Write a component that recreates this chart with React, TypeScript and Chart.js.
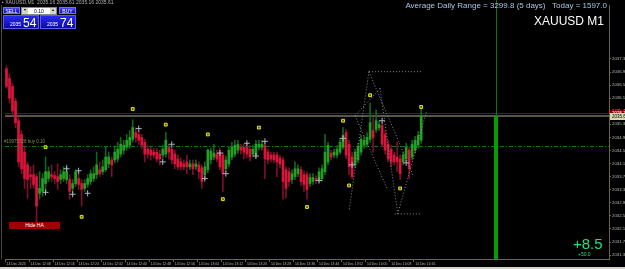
import React, { useEffect, useRef } from 'react';
import { Chart, registerables } from 'chart.js';

Chart.register(...registerables);

// ---- candle data (Heikin-Ashi, 1 minute) ----
const opens = [
  2037.05, 2036.75, 2036.51, 2036.06, 2035.46, 2035.04, 2034.50, 2034.11, 2033.81, 2033.81,
  2033.75, 2033.24, 2033.30, 2033.54, 2033.69, 2033.81, 2033.78, 2033.75, 2033.66, 2033.69,
  2033.66, 2033.66, 2033.39, 2033.54, 2033.69, 2033.54, 2033.39, 2033.51, 2033.60, 2033.69,
  2033.81, 2033.96, 2033.90, 2033.96, 2034.14, 2034.26, 2034.26, 2034.29, 2034.44, 2034.56,
  2034.65, 2034.71, 2034.89, 2035.10, 2035.04, 2034.95, 2034.80, 2034.59, 2034.56, 2034.50,
  2034.50, 2034.44, 2034.41, 2034.44, 2034.65, 2034.59, 2034.44, 2034.29, 2034.20, 2034.14,
  2034.20, 2034.05, 2034.14, 2034.05, 2034.11, 2034.02, 2033.81, 2033.96, 2034.26, 2034.35,
  2034.44, 2034.50, 2034.41, 2033.99, 2034.14, 2034.35, 2034.44, 2034.56, 2034.65, 2034.65,
  2034.65, 2034.59, 2034.44, 2034.41, 2034.65, 2034.65, 2034.71, 2034.50, 2034.41, 2034.41,
  2034.41, 2034.32, 2034.26, 2033.96, 2033.90, 2033.66, 2033.75, 2033.84, 2033.96, 2033.81,
  2033.81, 2033.54, 2033.60, 2033.69, 2033.66, 2033.69, 2033.90, 2034.20, 2034.47, 2034.41,
  2034.41, 2034.50, 2034.65, 2035.10, 2034.74, 2034.35, 2034.11, 2034.26, 2034.50, 2034.71,
  2034.74, 2034.89, 2035.16, 2035.19, 2035.25, 2035.31, 2035.04, 2034.74, 2034.59, 2034.41,
  2034.35, 2034.29, 2034.20, 2034.29, 2034.56, 2034.35, 2034.56, 2034.71, 2034.86,
];
const highs = [
  2037.14, 2036.90, 2036.60, 2036.15, 2035.55, 2035.16, 2034.65, 2034.20, 2034.05, 2034.11,
  2033.84, 2033.90, 2033.84, 2034.35, 2034.05, 2034.11, 2033.90, 2034.14, 2033.96, 2034.05,
  2034.11, 2033.81, 2033.66, 2033.96, 2033.90, 2033.66, 2033.66, 2033.81, 2033.96, 2034.05,
  2034.50, 2034.20, 2034.26, 2034.65, 2034.50, 2034.35, 2034.65, 2034.80, 2034.95, 2034.86,
  2035.04, 2035.16, 2035.49, 2035.25, 2035.16, 2035.04, 2034.89, 2034.71, 2034.65, 2034.62,
  2034.62, 2034.56, 2034.71, 2035.10, 2034.74, 2034.68, 2034.56, 2034.41, 2034.32, 2034.26,
  2034.41, 2034.26, 2034.26, 2034.26, 2034.20, 2034.11, 2034.20, 2034.59, 2034.62, 2034.74,
  2034.56, 2034.62, 2034.50, 2034.38, 2034.68, 2034.80, 2034.86, 2034.86, 2034.74, 2034.74,
  2034.77, 2034.71, 2034.71, 2034.86, 2034.86, 2034.86, 2034.80, 2034.59, 2034.50, 2034.50,
  2034.50, 2034.41, 2034.35, 2034.05, 2034.02, 2033.96, 2034.20, 2034.11, 2034.05, 2033.93,
  2033.90, 2033.84, 2033.84, 2033.78, 2034.02, 2034.11, 2035.04, 2034.80, 2034.56, 2034.59,
  2034.71, 2034.92, 2035.25, 2035.19, 2034.86, 2034.50, 2034.59, 2034.77, 2035.01, 2034.98,
  2035.10, 2036.00, 2035.55, 2035.79, 2035.46, 2035.40, 2035.16, 2034.86, 2034.71, 2034.50,
  2034.80, 2034.41, 2034.50, 2034.77, 2034.65, 2034.86, 2034.98, 2035.13, 2035.85,
];
const lows = [
  2036.45, 2036.00, 2035.64, 2035.25, 2034.05, 2033.84, 2033.39, 2033.09, 2033.39, 2033.39,
  2032.34, 2033.06, 2033.15, 2033.30, 2033.60, 2033.60, 2033.54, 2033.36, 2033.54, 2033.60,
  2033.54, 2033.06, 2033.24, 2033.45, 2033.36, 2032.85, 2033.30, 2033.42, 2033.51, 2033.60,
  2033.69, 2033.75, 2033.81, 2033.90, 2034.02, 2033.75, 2034.17, 2034.20, 2034.35, 2034.44,
  2034.56, 2034.62, 2034.80, 2034.80, 2034.74, 2034.59, 2034.20, 2034.32, 2034.26, 2034.32,
  2034.20, 2034.11, 2034.32, 2034.35, 2034.29, 2034.14, 2033.99, 2033.96, 2033.96, 2033.96,
  2033.84, 2033.96, 2033.81, 2033.96, 2033.69, 2033.39, 2033.66, 2033.87, 2034.14, 2034.26,
  2034.20, 2033.96, 2033.30, 2033.90, 2034.05, 2034.26, 2034.35, 2034.47, 2034.44, 2034.29,
  2034.32, 2034.23, 2034.35, 2034.32, 2034.56, 2034.56, 2033.69, 2034.14, 2034.20, 2034.17,
  2033.75, 2034.02, 2033.06, 2033.09, 2033.45, 2033.54, 2033.66, 2033.75, 2033.48, 2033.30,
  2033.06, 2033.45, 2033.51, 2033.54, 2033.57, 2033.60, 2033.81, 2034.11, 2034.26, 2034.32,
  2034.32, 2034.44, 2034.59, 2034.29, 2033.81, 2033.69, 2034.02, 2034.17, 2034.41, 2034.62,
  2034.65, 2034.80, 2034.50, 2035.10, 2035.16, 2034.65, 2034.44, 2034.20, 2034.05, 2034.11,
  2033.90, 2033.66, 2034.11, 2034.20, 2033.69, 2034.26, 2034.47, 2034.62, 2034.77,
];
const closes = [
  2036.51, 2036.15, 2035.76, 2035.40, 2034.20, 2033.99, 2033.69, 2033.66, 2033.75, 2033.51,
  2032.85, 2033.39, 2033.69, 2033.90, 2033.90, 2033.75, 2033.69, 2033.60, 2033.81, 2033.90,
  2033.90, 2033.30, 2033.54, 2033.90, 2033.51, 2033.36, 2033.54, 2033.69, 2033.84, 2033.84,
  2034.11, 2033.84, 2034.05, 2034.35, 2034.35, 2034.11, 2034.50, 2034.59, 2034.74, 2034.71,
  2034.86, 2034.95, 2035.25, 2034.95, 2034.86, 2034.71, 2034.44, 2034.44, 2034.41, 2034.41,
  2034.29, 2034.29, 2034.59, 2034.86, 2034.50, 2034.26, 2034.14, 2034.05, 2034.05, 2034.05,
  2034.05, 2034.14, 2033.99, 2034.14, 2033.90, 2033.60, 2034.05, 2034.56, 2034.53, 2034.47,
  2034.29, 2034.05, 2033.84, 2034.26, 2034.56, 2034.65, 2034.71, 2034.74, 2034.56, 2034.50,
  2034.44, 2034.35, 2034.59, 2034.74, 2034.74, 2034.74, 2034.29, 2034.26, 2034.29, 2034.26,
  2034.20, 2034.14, 2033.60, 2033.39, 2033.60, 2033.84, 2033.99, 2033.99, 2033.60, 2033.51,
  2033.36, 2033.72, 2033.72, 2033.63, 2033.90, 2033.99, 2034.50, 2034.71, 2034.35, 2034.50,
  2034.59, 2034.80, 2035.01, 2034.41, 2034.05, 2033.75, 2034.50, 2034.65, 2034.89, 2034.86,
  2034.95, 2035.40, 2034.95, 2035.46, 2035.34, 2034.74, 2034.56, 2034.29, 2034.20, 2034.20,
  2034.20, 2033.84, 2034.41, 2034.65, 2033.99, 2034.74, 2034.86, 2035.01, 2035.61,
];

// ---- axis ----
const SLOT_COUNT = 201; // visible minute slots (incl. empty future space)
const xTickLabels = [
  '14 Dec 2023', '14 Dec 12:08', '14 Dec 12:16', '14 Dec 12:24', '14 Dec 12:32', '14 Dec 12:40',
  '14 Dec 12:48', '14 Dec 12:56', '14 Dec 13:04', '14 Dec 13:12', '14 Dec 13:20', '14 Dec 13:28',
  '14 Dec 13:36', '14 Dec 13:44', '14 Dec 13:52', '14 Dec 14:00', '14 Dec 14:08', '14 Dec 14:16',
];
const yTickValues = [
  2031.35, 2031.75, 2032.15, 2032.55, 2032.95, 2033.35, 2033.75, 2034.15,
  2034.55, 2034.95, 2035.35, 2035.75, 2036.15, 2036.55, 2036.95, 2037.35,
];
const yMin = 2031.23;
const yMax = 2039.0;

// ---- markers ----
const fractalIdx = [13, 25, 42, 53, 67, 72, 84, 100, 112, 114, 121, 131, 138];
const fractalPrice = [2034.65, 2032.52, 2035.82, 2035.34, 2035.04, 2033.06, 2035.25, 2032.82, 2035.46, 2033.48, 2036.24, 2033.39, 2035.88];
const crossIdx = [13, 20, 22, 24, 27, 44, 52, 55, 66, 71, 73, 80, 83, 86, 104, 112, 115, 125, 133];
const crossPrice = [2033.27, 2033.99, 2033.21, 2033.93, 2033.24, 2035.22, 2034.20, 2034.74, 2033.69, 2034.47, 2033.84, 2034.77, 2034.38, 2034.83, 2033.63, 2034.92, 2034.11, 2035.46, 2034.17];

// ---- levels ----
const askLevel = 2035.70;
const bidLevel = 2035.61;
const orderLevel = 2034.68;
const rangeBarSlot = 163;

// pattern (dotted) segments: [slotA, priceA, slotB, priceB]
const patternSegments = [
  [120.6, 2036.96, 138.1, 2036.96],
  [129.2, 2032.61, 138.1, 2032.61],
  [120.6, 2036.96, 114.0, 2032.70],
  [120.6, 2036.96, 135.5, 2033.75],
  [124.3, 2036.45, 116.0, 2035.61],
  [124.3, 2036.45, 130.2, 2032.61],
  [116.0, 2035.61, 126.6, 2033.39],
  [130.2, 2032.61, 139.8, 2035.76],
];

const BODY_UP = '#23a023';
const BODY_DN = '#dc143c';
const WICK_UP = '#14641a';
const WICK_DN = '#7d0f2c';
const AXIS = '#6e6448';
const TICK_TXT = '#b8b8b0';

const overlay = {
  id: 'overlay',
  beforeDatasetsDraw(chart: any) {
    const { ctx, chartArea: a, scales } = chart;
    const x = scales.x, y = scales.y;
    ctx.save();
    ctx.strokeStyle = '#4a4a4a';
    ctx.lineWidth = 1;
    ctx.beginPath(); ctx.moveTo(1.5, a.top); ctx.lineTo(1.5, a.bottom); ctx.stroke();
    const yo = Math.round(y.getPixelForValue(orderLevel)) + 0.5;
    ctx.strokeStyle = '#0a7a0a';
    ctx.setLineDash([4, 2, 1, 2]);
    ctx.beginPath(); ctx.moveTo(a.left, yo); ctx.lineTo(a.right, yo); ctx.stroke();
    ctx.setLineDash([]);
    const yb = Math.round(y.getPixelForValue(bidLevel));
    ctx.strokeStyle = '#555555';
    ctx.lineWidth = 2;
    ctx.beginPath(); ctx.moveTo(a.left, yb); ctx.lineTo(a.right, yb); ctx.stroke();
    const ya = Math.round(y.getPixelForValue(askLevel)) + 0.5;
    ctx.strokeStyle = '#8b0000';
    ctx.lineWidth = 1;
    ctx.beginPath(); ctx.moveTo(a.left, ya); ctx.lineTo(a.right, ya); ctx.stroke();
    const xv = Math.round(x.getPixelForValue(rangeBarSlot)) + 0.5;
    ctx.strokeStyle = '#1c6e1c';
    ctx.lineWidth = 1;
    ctx.beginPath(); ctx.moveTo(xv, 0); ctx.lineTo(xv, a.bottom); ctx.stroke();
    ctx.fillStyle = '#00a000';
    ctx.fillRect(xv - 2.5, yb, 4, a.bottom - yb);
    ctx.restore();
  },
  afterDatasetsDraw(chart: any) {
    const { ctx, scales } = chart;
    const x = scales.x, y = scales.y;
    ctx.save();
    ctx.strokeStyle = '#8a8a8a';
    ctx.lineWidth = 1;
    ctx.setLineDash([1, 2]);
    for (const s of patternSegments) {
      ctx.beginPath();
      ctx.moveTo(x.getPixelForValue(s[0]), y.getPixelForValue(s[1]));
      ctx.lineTo(x.getPixelForValue(s[2]), y.getPixelForValue(s[3]));
      ctx.stroke();
    }
    ctx.restore();
  },
  afterDraw(chart: any) {
    const { ctx, chartArea: a, scales } = chart;
    const y = scales.y;
    ctx.save();
    const tag = (price: number, bg: string, fg: string) => {
      const py = y.getPixelForValue(price);
      ctx.fillStyle = bg;
      ctx.fillRect(a.right + 1, Math.round(py) - 3, 20, 7);
      ctx.fillStyle = fg;
      ctx.font = '4.5px "Liberation Sans", Arial, sans-serif';
      ctx.textBaseline = 'middle';
      ctx.fillText(price.toFixed(2), a.right + 3, Math.round(py) + 0.5);
    };
    tag(askLevel, '#8b0000', '#ffffff');
    tag(bidLevel, '#d8d8b0', '#000000');
    ctx.restore();
  },
};

export default function App() {
  const ref = useRef<HTMLCanvasElement>(null);
  useEffect(() => {
    document.body.style.margin = '0';
    document.body.style.background = '#000';
    const canvas = ref.current!;
    const labels = Array.from({ length: SLOT_COUNT }, (_, i) => String(i));
    const isUp = (i: number) => closes[i] >= opens[i];
    const wickData = highs.map((h, i) => [lows[i], h]);
    const bodyData = opens.map((o, i) => [o, closes[i]]);
    const fractalData: (number | null)[] = new Array(SLOT_COUNT).fill(null);
    fractalIdx.forEach((ix, k) => { fractalData[ix] = fractalPrice[k]; });
    const crossData: (number | null)[] = new Array(SLOT_COUNT).fill(null);
    crossIdx.forEach((ix, k) => { crossData[ix] = crossPrice[k]; });
    const lastTickSlot = (xTickLabels.length - 1) * 8;

    const chart = new Chart(canvas, {
      type: 'bar',
      data: {
        labels,
        datasets: [
          {
            type: 'bar',
            data: wickData as any,
            backgroundColor: highs.map((_, i) => (isUp(i) ? WICK_UP : WICK_DN)),
            barThickness: 1,
            grouped: false,
            order: 3,
          } as any,
          {
            type: 'bar',
            data: bodyData as any,
            backgroundColor: opens.map((_, i) => (isUp(i) ? BODY_UP : BODY_DN)),
            barThickness: 2,
            grouped: false,
            order: 2,
          } as any,
          {
            type: 'line',
            data: fractalData,
            showLine: false,
            pointStyle: 'rect',
            pointRadius: 2,
            pointBackgroundColor: '#5a5a00',
            pointBorderColor: '#e8e800',
            pointBorderWidth: 1,
            order: 1,
          } as any,
          {
            type: 'line',
            data: crossData,
            showLine: false,
            pointStyle: 'cross',
            pointRadius: 3,
            pointBorderColor: '#a9b4c6',
            pointBorderWidth: 1,
            order: 1,
          } as any,
        ],
      },
      options: {
        responsive: false,
        animation: false,
        devicePixelRatio: 1,
        events: [],
        layout: { padding: 0 },
        plugins: { legend: { display: false }, tooltip: { enabled: false } },
        scales: {
          x: {
            type: 'category',
            offset: true,
            border: { color: AXIS, width: 1 },
            grid: {
              drawOnChartArea: false,
              drawTicks: true,
              tickLength: 3,
              color: (c: any) => (c.index % 8 === 0 && c.index <= lastTickSlot ? AXIS : 'rgba(0,0,0,0)'),
            },
            afterFit: (s: any) => { s.height = 10; s.paddingLeft = 0; s.paddingRight = 0; },
            ticks: {
              autoSkip: false,
              maxRotation: 0,
              minRotation: 0,
              align: 'start',
              padding: 0,
              color: TICK_TXT,
              font: { size: 3.4, family: '"Liberation Sans", Arial, sans-serif' },
              callback: (_v: any, i: number) => (i % 8 === 0 && i / 8 < xTickLabels.length ? xTickLabels[i / 8] : ''),
            },
          },
          y: {
            position: 'right',
            min: yMin,
            max: yMax,
            border: { color: AXIS, width: 1 },
            grid: { drawOnChartArea: false, drawTicks: true, tickLength: 2, color: AXIS },
            afterBuildTicks: (s: any) => { s.ticks = yTickValues.map((v) => ({ value: v })); },
            afterFit: (s: any) => { s.width = 16; s.paddingTop = 0; s.paddingBottom = 0; },
            ticks: {
              padding: 1,
              color: TICK_TXT,
              font: { size: 4.3, family: '"Liberation Sans", Arial, sans-serif' },
              callback: (v: any) => Number(v).toFixed(2),
            },
          },
        },
      } as any,
      plugins: [overlay],
    });
    return () => chart.destroy();
  }, []);

  const font = '"Liberation Sans", Arial, sans-serif';
  const abs = (s: React.CSSProperties): React.CSSProperties => ({ position: 'absolute', whiteSpace: 'pre', fontFamily: font, lineHeight: 1, ...s });
  const blueBtn = 'linear-gradient(#4a4aff, #0c0cb4)';

  return (
    <div style={{ position: 'relative', width: 625, height: 269, background: '#000', overflow: 'hidden' }}>
      <canvas ref={ref} width={625} height={269} style={{ position: 'absolute', left: 0, top: 0, width: 625, height: 269 }} />
      <div style={abs({ left: 2, top: 0, fontSize: 5, color: '#b0b0b0' })}>▪ XAUUSD,M1  2035.16 2035.61 2035.16 2035.61</div>
      <div style={abs({ left: 3, top: 7, width: 17, height: 7, background: blueBtn, border: '1px solid #7070ff', boxSizing: 'border-box', color: '#fff', fontSize: 5, textAlign: 'center', paddingTop: 1 })}>SELL</div>
      <div style={abs({ left: 21, top: 7, width: 36, height: 8, background: '#fff', border: '1px solid #888', boxSizing: 'border-box' })}>
        <div style={abs({ left: 0, top: 0, width: 6, height: 6, background: '#d4d4d4', fontSize: 4, color: '#000', textAlign: 'center' })}>▾</div>
        <div style={abs({ left: 12, top: 1, fontSize: 5, color: '#000' })}>0.10</div>
        <div style={abs({ right: 0, top: 0, width: 6, height: 6, background: '#d4d4d4', fontSize: 4, color: '#000', textAlign: 'center' })}>▴</div>
      </div>
      <div style={abs({ left: 59, top: 7, width: 17, height: 7, background: blueBtn, border: '1px solid #7070ff', boxSizing: 'border-box', color: '#fff', fontSize: 5, textAlign: 'center', paddingTop: 1 })}>BUY</div>
      <div style={abs({ left: 3, top: 15, width: 36, height: 14, background: 'linear-gradient(#2a2af0, #0a0aa8)', border: '1px solid #5a5aff', boxSizing: 'border-box' })}>
        <div style={abs({ left: 6, top: 6, fontSize: 5, color: '#fff' })}>2035</div>
        <div style={abs({ left: 19, top: 1, fontSize: 12, color: '#fff' })}>54</div>
      </div>
      <div style={abs({ left: 40, top: 15, width: 36, height: 14, background: 'linear-gradient(#2a2af0, #0a0aa8)', border: '1px solid #5a5aff', boxSizing: 'border-box' })}>
        <div style={abs({ left: 6, top: 6, fontSize: 5, color: '#fff' })}>2035</div>
        <div style={abs({ left: 19, top: 1, fontSize: 12, color: '#fff' })}>74</div>
      </div>
      <div style={abs({ right: 18, top: 2, fontSize: 8, color: '#a9c4e4' })}>Average Daily Range = 3299.8 (5 days)   Today = 1597.0</div>
      <div style={abs({ right: 21, top: 14.5, fontSize: 12, color: '#ffffff' })}>XAUUSD M1</div>
      <div style={abs({ left: 573, top: 236, fontSize: 15, color: '#19e37a' })}>+8.5</div>
      <div style={abs({ left: 578, top: 251.5, fontSize: 5, color: '#19e37a' })}>+50.0</div>
      <div style={abs({ left: 4, top: 140, fontSize: 4.5, color: '#7f8f4a' })}>#19975728 buy 0.10</div>
      <div style={abs({ left: 9, top: 222, width: 51, height: 7, background: '#a00000', color: '#fff', fontSize: 5, textAlign: 'center', paddingTop: 1, boxSizing: 'border-box' })}>Hide HA</div>
      <div style={{ position: 'absolute', left: 0, top: 267, width: 625, height: 2, background: '#d4d0c8' }} />
    </div>
  );
}
